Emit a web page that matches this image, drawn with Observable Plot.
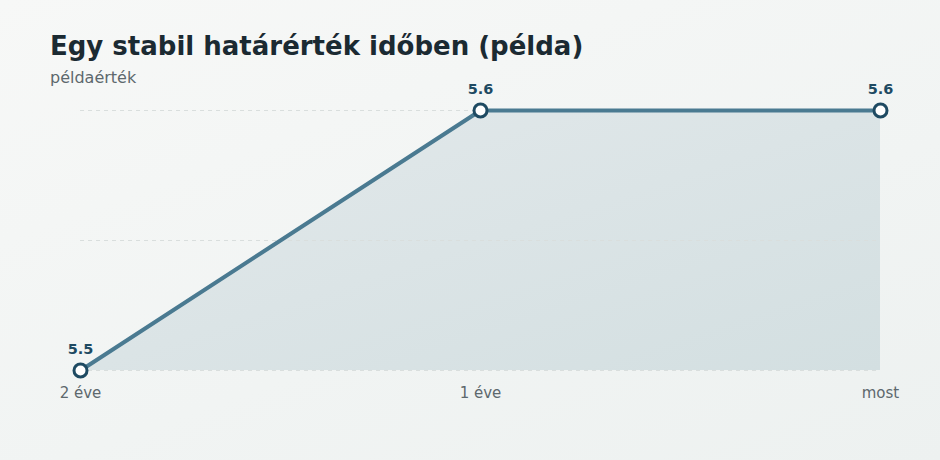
<!DOCTYPE html>
<html>
<head>
<meta charset="utf-8">
<script src="https://cdn.jsdelivr.net/npm/d3@7"></script>
<script src="https://cdn.jsdelivr.net/npm/@observablehq/plot@0.6"></script>
<style>
  html, body { margin: 0; padding: 0; }
  body {
    width: 940px; height: 460px; overflow: hidden;
    background: linear-gradient(160deg, #f7f8f7 0%, #f1f4f3 60%, #edf1f0 100%);
    font-family: "DejaVu Sans", sans-serif;
  }
  #title { position: absolute; left: 50px; top: 31px; font-size: 26px; line-height: 30px; font-weight: bold; color: #1b2a32; }
  #subtitle { position: absolute; left: 50px; top: 68px; font-size: 16px; line-height: 20px; color: #5d686d; }
  #chart { position: absolute; left: 0; top: 90px; }
</style>
</head>
<body>
<div id="title">Egy stabil határérték időben (példa)</div>
<div id="subtitle">példaérték</div>
<div id="chart"></div>
<script>
const periods = ["2 éve", "1 éve", "most"];
const values = [5.5, 5.6, 5.6];
const gridValues = [5.5, 5.55, 5.6];
const yDomain = [5.5, 5.6];

const data = periods.map((p, i) => ({ period: p, value: values[i] }));

const gradientDefs = () => {
  const defs = d3.create("svg:defs");
  const g = defs.append("linearGradient").attr("id", "areaGrad")
    .attr("x1", "0").attr("y1", "0").attr("x2", "1").attr("y2", "1");
  g.append("stop").attr("offset", "0%").attr("stop-color", "#e3e9eb");
  g.append("stop").attr("offset", "100%").attr("stop-color", "#d3dfe1");
  return defs.node();
};

const chart = Plot.plot({
  width: 940,
  height: 370,
  marginLeft: 80,
  marginRight: 60,
  marginTop: 20,
  marginBottom: 90,
  style: { background: "transparent", fontFamily: "DejaVu Sans, sans-serif", overflow: "visible" },
  x: { type: "point", domain: periods, padding: 0 },
  y: { domain: yDomain, axis: null },
  marks: [
    gradientDefs,
    Plot.areaY(data, { x: "period", y1: () => yDomain[0], y2: "value", fill: "url(#areaGrad)" }),
    Plot.ruleY(gridValues, { stroke: "#d9dedd", strokeWidth: 1, strokeDasharray: "4,4" }),
    Plot.line(data, { x: "period", y: "value", stroke: "#4a7a91", strokeWidth: 4 }),
    Plot.dot(data, { x: "period", y: "value", r: 6.5, fill: "white", stroke: "#1e4a62", strokeWidth: 3 }),
    Plot.text(data, { x: "period", y: "value", text: d => d.value.toFixed(1), dy: -21, fill: "#1e4a62", fontWeight: "bold", fontSize: 14.5 }),
    Plot.axisX({ tickSize: 0, tickPadding: 17, fontSize: 15, color: "#5d686d", label: null })
  ]
});
document.getElementById("chart").appendChild(chart);
</script>
</body>
</html>
